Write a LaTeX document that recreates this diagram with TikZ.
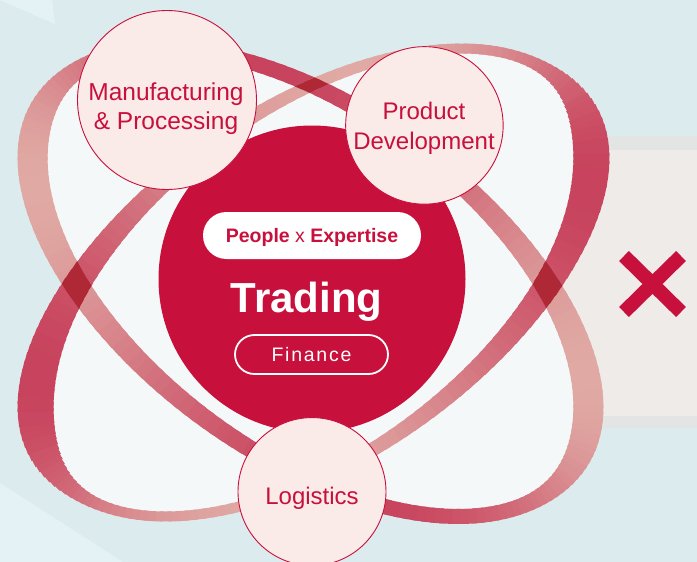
\documentclass[tikz,border=0pt]{standalone}
\usepackage{fontspec}
\setmainfont{Liberation Sans}
\definecolor{tradered}{HTML}{C8103C}
\definecolor{bgblue}{HTML}{DCEBEE}
\definecolor{bgfacet}{HTML}{E4F2F5}
\definecolor{panelgrey}{HTML}{EEEBE8}
\definecolor{panelrim}{HTML}{E2E5E4}
\definecolor{loopin}{HTML}{F4F8F9}
\definecolor{ringdark}{HTML}{C8435D}
\definecolor{ringlight}{HTML}{E0A9A4}
\definecolor{crossred}{HTML}{AE2836}
\definecolor{satfill}{HTML}{FAEBE9}
% current ring: centre, tilt, radii, widths
\def\ringset#1#2#3#4#5#6#7{\def\rcx{#1}\def\rcy{#2}\def\rr{#3}\def\ra{#4}\def\rb{#5}\def\rwa{#6}\def\rwb{#7}}
\ringset{0}{0}{0}{1}{1}{1}{0}
\tikzset{
	satellite/.style={circle, fill=satfill, draw=tradered, line width=0.9pt, inner sep=0pt},
	satlabel/.style={text=tradered, align=center, inner sep=0pt},
	pill/.style={rectangle, inner sep=0pt, text height=14pt, text depth=0pt},
	ringink/.style={},
	declare function={
		rdx(\t)=-\ra*sin(\t)*cos(\rr)+\rb*cos(\t)*sin(\rr);
		rdy(\t)=\ra*sin(\t)*sin(\rr)+\rb*cos(\t)*cos(\rr);
		rlen(\t)=veclen(rdx(\t),rdy(\t));
		ringh(\t)=(\rwa+\rwb*(abs(rdy(\t))/rlen(\t))^3)/2;
		ringx(\t,\s)=\rcx+\ra*cos(\t)*cos(\rr)+\rb*sin(\t)*sin(\rr)+\s*ringh(\t)*rdy(\t)/rlen(\t);
		ringy(\t,\s)=\rcy-\ra*cos(\t)*sin(\rr)+\rb*sin(\t)*cos(\rr)-\s*ringh(\t)*rdx(\t)/rlen(\t);
	},
}
% the current ring as a closed band (for clipping)
\def\ringband{plot[domain=0:360, samples=181, variable=\t] ({ringx(\t,1)},{ringy(\t,1)}) -- plot[domain=360:0, samples=181, variable=\t] ({ringx(\t,-1)},{ringy(\t,-1)}) -- cycle}
% the current ring in short coloured arcs: thin where it runs flat, thick where it runs upright
\def\ringloop#1{%
	\foreach \ang in {0,2,...,358}{
		\pgfmathsetmacro\mixv{max(0,min(100,50+50*cos(2*(\ang+1-#1))))}
		\pgfmathsetmacro\lw{2*ringh(\ang+1)}
		\draw[line width=\lw pt, color=ringdark!\mixv!ringlight, ringink, shift={(\rcx,\rcy)}, rotate=\rr]
			(\ang:\ra\space and \rb) arc[start angle=\ang, end angle=\ang+3, x radius=\ra, y radius=\rb];
	}}

\begin{document}
\begin{tikzpicture}[x=1pt, y=-1pt]
		%%%%% START %%%%%
		\useasboundingbox (0,0) rectangle (697,562);
		\fill[bgblue] (0,0) rectangle (697,562);
		\fill[bgfacet] (0,0) -- (52,0) -- (55,24) -- cycle;
		\fill[bgfacet] (0,483) -- (123,562) -- (0,562) -- cycle;
		
		% panel behind the X
		\fill[panelrim] (556,136) rectangle (697,428);
		\fill[panelgrey] (556,150) rectangle (697,416);
		\draw[tradered, line width=14pt] (624,256) -- (681,312);
		\draw[tradered, line width=14pt] (681,256) -- (624,312);
		
		% inside of both loops
		\fill[loopin, shift={(310.5,282.5)}, rotate=-36] (0,0) ellipse[x radius=320, y radius=172];
		\fill[loopin, shift={(313.5,282.5)}, rotate=36] (0,0) ellipse[x radius=320, y radius=172];
		
		% the two loops and where they cross
		\ringset{310.5}{282.5}{-36}{320}{172}{15}{15}
		\ringloop{60}
		\ringset{313.5}{282.5}{36}{320}{172}{10}{26}
		\ringloop{30}
		\begin{scope}
			\ringset{310.5}{282.5}{-36}{320}{172}{15}{15}
			\clip \ringband;
			\ringset{313.5}{282.5}{36}{320}{172}{10}{26}
			\begin{scope}[ringink/.style={color=crossred}]
				\ringloop{30}
			\end{scope}
		\end{scope}
		
		% centre
		\node[circle, fill=tradered, inner sep=0pt, minimum size=307pt] (core) at (312,279) {};
		\node[pill, fill=white, text=tradered, minimum width=218pt, minimum height=47pt, rounded corners=23.5pt, font={\fontsize{19.5}{22}\selectfont}] (people) at (312,235.5) {\textbf{People} x \textbf{Expertise}};
		\node[text=white, inner sep=0pt, anchor=base, font={\bfseries\fontsize{42}{48}\selectfont}] (tradtext) at (306.5,312) {Trading};
		\node[pill, draw=white, line width=1.8pt, text=white, minimum width=153pt, minimum height=39pt, rounded corners=19.5pt, font={\fontsize{19.5}{22}\selectfont\addfontfeature{LetterSpace=9}}] (finance) at (311.5,354.5) {Finance};
		
		% satellites
		\node[satellite, minimum size=179pt] (manu) at (167,100) {};
		\node[satellite, minimum size=157.5pt] (prod) at (424.4,125.4) {};
		\node[satellite, minimum size=148pt] (logi) at (312,491.6) {};
		\node[satlabel, font={\fontsize{24.5}{29.3}\selectfont}] (manutext) at (166,108.6) {Manufacturing\\\& Processing};
		\node[satlabel, font={\fontsize{24}{30.1}\selectfont}] (prodtext) at (424,128.2) {Product\\Development};
		\node[satlabel, anchor=base, font={\fontsize{24}{29}\selectfont}] (logitext) at (312,504.7) {Logistics};
		%%%%% END %%%%%
\end{tikzpicture}
\end{document}
